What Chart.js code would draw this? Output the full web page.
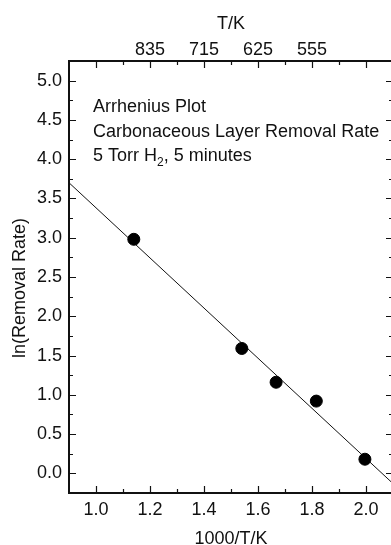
<!DOCTYPE html>
<html>
<head>
<meta charset="utf-8">
<script src="https://cdn.jsdelivr.net/npm/chart.js@4"></script>
<style>
  html, body { margin: 0; padding: 0; background: #fff; overflow: hidden; }
  #wrap { width: 391px; height: 545px; overflow: hidden; }
</style>
</head>
<body>
<div id="wrap"><canvas id="grafica" width="400" height="545"></canvas></div>
<script>
// --- DATOS ---
const invT = [1.14, 1.54, 1.667, 1.816, 1.996];      // 1000/T/K
const lnRate = [2.98, 1.59, 1.16, 0.92, 0.18];       // ln(Removal Rate)
const fitX = [0.9, 2.1];
const fitY = [3.70, -0.13];

const xTicks = [1.0, 1.2, 1.4, 1.6, 1.8, 2.0];
const xMinor = [1.1, 1.3, 1.5, 1.7, 1.9];
const topTicks = [1.2, 1.4, 1.6, 1.8];
const topLabels = ["835", "715", "625", "555"];
const yTicks = [0, 0.5, 1.0, 1.5, 2.0, 2.5, 3.0, 3.5, 4.0, 4.5, 5.0];
const yMinor = [0.25, 0.75, 1.25, 1.75, 2.25, 2.75, 3.25, 3.75, 4.25, 4.75];

const notas = ["Arrhenius Plot", "Carbonaceous Layer Removal Rate"];
const notaH2 = ["5 Torr H", "2", ", 5 minutes"];
const tituloY = "ln(Removal Rate)";

const FUENTE = "'Liberation Sans', Arial, sans-serif";
Chart.defaults.font.family = FUENTE;
Chart.defaults.font.size = 18;
Chart.defaults.color = "#111";

// --- MARCAS HACIA ADENTRO Y TEXTOS ---
const marcas = {
  id: "marcas",
  afterDraw(chart) {
    const { ctx, chartArea: a, scales } = chart;
    const sx = scales.x, sy = scales.y;
    ctx.save();
    ctx.strokeStyle = "#111";
    ctx.lineWidth = 1.2;
    ctx.beginPath();
    const vTick = (v, len) => {
      const px = Math.round(sx.getPixelForValue(v)) + 0.5;
      ctx.moveTo(px, a.bottom); ctx.lineTo(px, a.bottom - len);
      ctx.moveTo(px, a.top); ctx.lineTo(px, a.top + len);
    };
    const hTick = (v, len) => {
      const py = Math.round(sy.getPixelForValue(v)) + 0.5;
      ctx.moveTo(a.left, py); ctx.lineTo(a.left + len, py);
      ctx.moveTo(a.right, py); ctx.lineTo(a.right - len, py);
    };
    xTicks.forEach(v => vTick(v, 7));
    xMinor.forEach(v => vTick(v, 4));
    yTicks.forEach(v => hTick(v, 7));
    yMinor.forEach(v => hTick(v, 4));
    ctx.stroke();

    // borde derecho
    ctx.lineWidth = 2;
    ctx.beginPath();
    ctx.moveTo(a.right, a.top); ctx.lineTo(a.right, a.bottom);
    ctx.stroke();

    // notas
    ctx.fillStyle = "#111";
    ctx.font = "18px " + FUENTE;
    ctx.textAlign = "left";
    ctx.textBaseline = "alphabetic";
    const x0 = a.left + 24;
    ctx.fillText(notas[0], x0, a.top + 51);
    ctx.fillText(notas[1], x0, a.top + 75.5);
    let xx = x0;
    const yb = a.top + 99.5;
    ctx.fillText(notaH2[0], xx, yb);
    xx += ctx.measureText(notaH2[0]).width;
    ctx.font = "12px " + FUENTE;
    ctx.fillText(notaH2[1], xx, yb + 5);
    xx += ctx.measureText(notaH2[1]).width;
    ctx.font = "18px " + FUENTE;
    ctx.fillText(notaH2[2], xx, yb);

    // título eje y
    ctx.translate(20, (a.top + a.bottom) / 2 + 11);
    ctx.rotate(-Math.PI / 2);
    ctx.textAlign = "center";
    ctx.textBaseline = "middle";
    ctx.fillText(tituloY, 0, 0);
    ctx.restore();
  }
};

// sin relleno extra de etiquetas en los bordes
const sinRelleno = s => { s.paddingLeft = 0; s.paddingRight = 0; s.paddingTop = 0; s.paddingBottom = 0; };

const ctx = document.getElementById("grafica");
new Chart(ctx, {
  type: "scatter",
  data: {
    datasets: [
      {
        data: invT.map((v, i) => ({ x: v, y: lnRate[i] })),
        backgroundColor: "#000",
        borderColor: "#000",
        pointRadius: 6,
        pointHoverRadius: 6
      },
      {
        type: "line",
        data: fitX.map((v, i) => ({ x: v, y: fitY[i] })),
        borderColor: "#111",
        borderWidth: 1,
        pointRadius: 0,
        fill: false
      }
    ]
  },
  plugins: [marcas],
  options: {
    responsive: false,
    animation: false,
    devicePixelRatio: 1,
    layout: { padding: { left: 0, right: 3, top: 0, bottom: 0 } },
    plugins: { legend: { display: false }, tooltip: { enabled: false } },
    scales: {
      x: {
        type: "linear",
        position: "bottom",
        min: 0.9,
        max: 2.1,
        afterBuildTicks: s => { s.ticks = xTicks.map(v => ({ value: v })); },
        afterFit: s => { s.height = 52; sinRelleno(s); },
        grid: { display: false, drawTicks: false },
        border: { display: true, color: "#111", width: 2 },
        ticks: { padding: 6, autoSkip: false, maxRotation: 0, callback: v => v.toFixed(1) },
        title: { display: true, text: "1000/T/K", font: { size: 18, lineHeight: "15px" }, padding: { top: 0, bottom: -2 } }
      },
      x2: {
        type: "linear",
        position: "top",
        min: 0.9,
        max: 2.1,
        afterBuildTicks: s => { s.ticks = topTicks.map(v => ({ value: v })); },
        afterFit: s => { s.height = 61; sinRelleno(s); },
        grid: { display: false, drawTicks: false },
        border: { display: true, color: "#111", width: 2 },
        ticks: { padding: 0, autoSkip: false, maxRotation: 0, callback: v => topLabels[topTicks.indexOf(v)] },
        title: { display: true, text: "T/K", font: { size: 18, lineHeight: "15px" }, padding: { top: 16.5, bottom: 0 } }
      },
      y: {
        type: "linear",
        position: "left",
        min: -0.25,
        max: 5.25,
        afterBuildTicks: s => { s.ticks = yTicks.map(v => ({ value: v })); },
        afterFit: s => { s.width = 69; sinRelleno(s); },
        grid: { display: false, drawTicks: false },
        border: { display: true, color: "#111", width: 2 },
        ticks: { padding: 7, autoSkip: false, callback: v => v.toFixed(1) }
      }
    }
  }
});
</script>
</body>
</html>
